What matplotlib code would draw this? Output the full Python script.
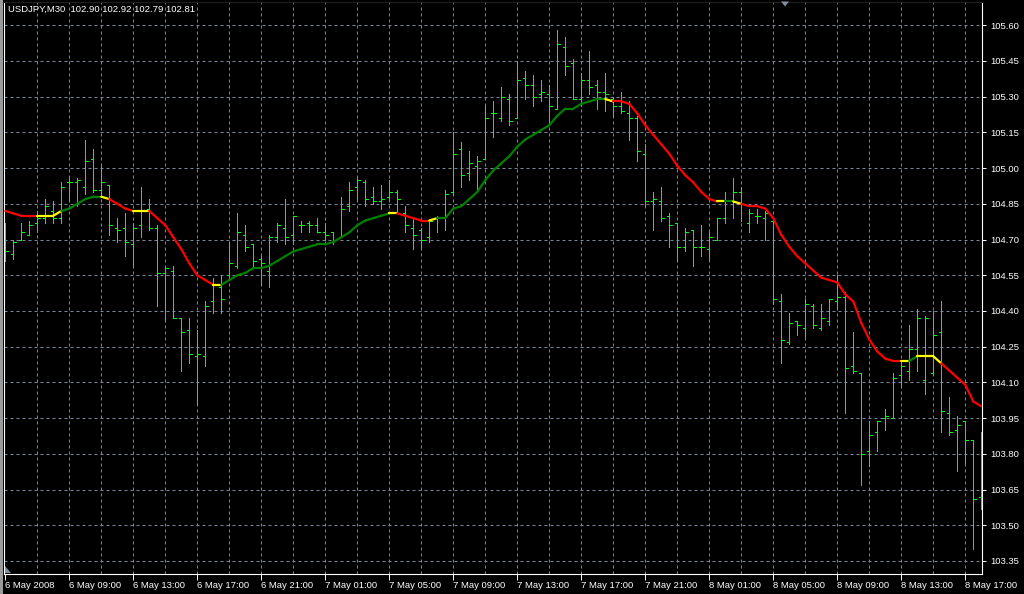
import numpy as np
import matplotlib
matplotlib.use("Agg")
import matplotlib.pyplot as plt
from matplotlib.collections import LineCollection
from matplotlib.patches import Polygon, Rectangle

# ---------------- data (USDJPY M30, 6 May 2008 05:00 onward) ----------------
opens = [104.70, 104.64, 104.70, 104.72, 104.77, 104.79, 104.82, 104.79, 104.94, 104.94,
         104.92, 105.04, 104.91, 104.93, 104.75, 104.75, 104.68, 104.76, 104.83, 104.75,
         104.56, 104.57, 104.37, 104.32, 104.21, 104.21, 104.44, 104.50, 104.55, 104.59,
         104.72, 104.68, 104.62, 104.57, 104.71, 104.75, 104.72, 104.76, 104.77, 104.76,
         104.73, 104.73, 104.71, 104.84, 104.92, 104.94, 104.88, 104.86, 104.88, 104.90,
         104.81, 104.75, 104.74, 104.71, 104.79, 104.79, 104.90, 105.08, 104.98, 105.01,
         105.04, 105.23, 105.21, 105.29, 105.21, 105.38, 105.35, 105.31, 105.31, 105.25,
         105.51, 105.44, 105.29, 105.37, 105.35, 105.32, 105.29, 105.26, 105.23, 105.21,
         105.06, 104.86, 104.86, 104.80, 104.77, 104.67, 104.74, 104.67, 104.66, 104.70,
         104.79, 104.86, 104.90, 104.77, 104.80, 104.79, 104.78, 104.44, 104.27, 104.36,
         104.33, 104.42, 104.33, 104.36, 104.44, 104.46, 104.17, 104.14, 103.81, 103.89,
         103.95, 103.95, 104.13, 104.15, 104.24, 104.11, 104.14, 104.31, 103.97, 103.90,
         103.94, 103.86, 103.62]
highs = [104.77, 104.70, 104.77, 104.78, 104.82, 104.87, 104.86, 104.94, 104.96, 104.96,
         105.12, 105.08, 105.01, 104.93, 104.79, 104.81, 104.77, 104.92, 104.87, 104.76,
         104.58, 104.59, 104.37, 104.37, 104.32, 104.44, 104.54, 104.55, 104.69, 104.81,
         104.76, 104.68, 104.63, 104.72, 104.77, 104.87, 104.80, 104.78, 104.78, 104.79,
         104.77, 104.73, 104.88, 104.94, 104.96, 104.95, 104.92, 104.93, 104.95, 104.91,
         104.84, 104.79, 104.75, 104.78, 104.80, 104.91, 105.15, 105.11, 105.07, 105.05,
         105.26, 105.28, 105.34, 105.31, 105.45, 105.41, 105.39, 105.37, 105.35, 105.58,
         105.55, 105.46, 105.40, 105.49, 105.37, 105.40, 105.30, 105.32, 105.28, 105.22,
         105.10, 104.90, 104.92, 104.81, 104.77, 104.75, 104.74, 104.76, 104.73, 104.79,
         104.90, 104.96, 104.92, 104.83, 104.83, 104.82, 104.78, 104.47, 104.39, 104.36,
         104.45, 104.43, 104.43, 104.45, 104.55, 104.48, 104.31, 104.14, 103.94, 103.94,
         103.99, 104.14, 104.18, 104.34, 104.41, 104.38, 104.40, 104.44, 104.04, 103.96,
         103.94, 103.86, 103.89]
lows = [104.61, 104.62, 104.70, 104.72, 104.73, 104.77, 104.77, 104.77, 104.86, 104.84,
        104.89, 104.90, 104.89, 104.72, 104.69, 104.63, 104.59, 104.71, 104.74, 104.42,
        104.36, 104.37, 104.15, 104.18, 104.01, 104.17, 104.39, 104.39, 104.54, 104.58,
        104.65, 104.58, 104.51, 104.50, 104.69, 104.68, 104.68, 104.73, 104.73, 104.73,
        104.70, 104.68, 104.71, 104.82, 104.86, 104.84, 104.85, 104.83, 104.86, 104.81,
        104.73, 104.66, 104.66, 104.69, 104.73, 104.74, 104.89, 104.92, 104.95, 104.90,
        105.04, 105.13, 105.20, 105.18, 105.21, 105.29, 105.26, 105.28, 105.19, 105.25,
        105.39, 105.29, 105.26, 105.31, 105.25, 105.24, 105.22, 105.23, 105.12, 105.03,
        104.84, 104.74, 104.78, 104.67, 104.61, 104.65, 104.59, 104.63, 104.62, 104.70,
        104.77, 104.79, 104.78, 104.73, 104.77, 104.70, 104.43, 104.18, 104.26, 104.30,
        104.29, 104.33, 104.32, 104.34, 104.41, 103.97, 104.14, 103.67, 103.75, 103.81,
        103.90, 103.95, 104.08, 104.11, 104.15, 104.05, 104.13, 103.89, 103.88, 103.73,
        103.76, 103.40, 103.57]
closes = [104.65, 104.69, 104.73, 104.76, 104.79, 104.84, 104.79, 104.92, 104.94, 104.95,
          105.03, 104.91, 104.94, 104.76, 104.74, 104.69, 104.75, 104.82, 104.75, 104.56,
          104.58, 104.37, 104.31, 104.22, 104.22, 104.42, 104.51, 104.45, 104.60, 104.73,
          104.67, 104.61, 104.60, 104.71, 104.76, 104.71, 104.80, 104.76, 104.76, 104.73,
          104.72, 104.70, 104.83, 104.91, 104.95, 104.87, 104.86, 104.87, 104.90, 104.87,
          104.76, 104.72, 104.70, 104.78, 104.79, 104.89, 105.06, 104.97, 105.02, 105.03,
          105.21, 105.23, 105.30, 105.20, 105.37, 105.35, 105.30, 105.32, 105.26, 105.52,
          105.43, 105.29, 105.37, 105.34, 105.32, 105.31, 105.26, 105.24, 105.21, 105.07,
          104.86, 104.87, 104.79, 104.76, 104.67, 104.73, 104.67, 104.67, 104.71, 104.79,
          104.86, 104.90, 104.85, 104.81, 104.80, 104.81, 104.45, 104.28, 104.35, 104.34,
          104.43, 104.34, 104.37, 104.45, 104.46, 104.16, 104.15, 103.80, 103.88, 103.94,
          103.96, 104.12, 104.17, 104.24, 104.37, 104.37, 104.30, 103.98, 103.89, 103.92,
          103.86, 103.61, 103.59]
ma_values = [104.82, 104.81, 104.80, 104.80, 104.80, 104.80, 104.80, 104.82, 104.83, 104.85,
             104.87, 104.88, 104.88, 104.87, 104.85, 104.83, 104.82, 104.82, 104.82, 104.79,
             104.76, 104.71, 104.66, 104.60, 104.55, 104.53, 104.51, 104.51, 104.53, 104.55,
             104.56, 104.58, 104.58, 104.59, 104.61, 104.63, 104.65, 104.66, 104.67, 104.68,
             104.68, 104.69, 104.71, 104.73, 104.76, 104.78, 104.79, 104.80, 104.81, 104.81,
             104.80, 104.79, 104.78, 104.78, 104.79, 104.79, 104.83, 104.84, 104.87, 104.90,
             104.95, 104.99, 105.02, 105.05, 105.09, 105.12, 105.14, 105.16, 105.18, 105.22,
             105.25, 105.25, 105.27, 105.28, 105.29, 105.29, 105.28, 105.28, 105.27, 105.23,
             105.18, 105.14, 105.10, 105.06, 105.01, 104.97, 104.94, 104.90, 104.87, 104.86,
             104.86, 104.86, 104.85, 104.84, 104.84, 104.83, 104.79, 104.72, 104.67, 104.63,
             104.60, 104.57, 104.54, 104.53, 104.52, 104.47, 104.44, 104.35, 104.28, 104.23,
             104.20, 104.19, 104.19, 104.19, 104.21, 104.21, 104.21, 104.18, 104.15, 104.12,
             104.09, 104.02, 104.00]
# trend state of the MA per bar: R = falling, Y = flat, G = rising
ma_state = ("RRRRR" "YYY" "GGGGG" "Y" "RRR" "YY" "RRRRRRRR" "Y"
            "GGGGGGGGGGGGGGGGGGGGG" "Y" "RRRR" "Y" "GGGGGGGGGGGGGGGGGGGGG" "Y"
            "RRRRRRRRRRRRR" "Y" "G" "Y" "RRRRRRRRRRRRRRRRRRRR" "Y" "G" "YYY" "RRRRR")
xtick_labels = ["6 May 2008", "6 May 09:00", "6 May 13:00", "6 May 17:00", "6 May 21:00",
                "7 May 01:00", "7 May 05:00", "7 May 09:00", "7 May 13:00", "7 May 17:00",
                "7 May 21:00", "8 May 01:00", "8 May 05:00", "8 May 09:00", "8 May 13:00",
                "8 May 17:00"]
title_text = "USDJPY,M30  102.90 102.92 102.79 102.81"

# ---------------- figure ----------------
W, H = 1024, 594
FONT = "Liberation Sans"
fig = plt.figure(figsize=(W / 100, H / 100), dpi=100, facecolor="black")
top_px, bot_px, left_px, right_px = 1.5, 573.5, 4.0, 982.0
ax = fig.add_axes([left_px / W, (H - bot_px) / H, (right_px - left_px) / W, (bot_px - top_px) / H])
ax.set_facecolor("black")

n = len(opens)
x = np.arange(n)
ax.set_xlim(-0.16, 122.09)
ax.set_ylim(103.2975, 105.6998)

yticks = np.round(np.arange(103.35, 105.6001, 0.15), 2)
grid_kw = dict(color="#778899", linewidth=0.72, linestyle=(0, (3, 3)), zorder=0)
for yv in yticks:
    ax.axhline(yv, **grid_kw)
for xv in x[4::4]:
    ax.axvline(xv, **grid_kw)

bar_color = "#00FF00"
bw = 0.72
ax.vlines(x, lows, highs, colors=bar_color, linewidth=bw, antialiased=False, zorder=2)
ax.hlines(opens, x - 0.32, x, colors=bar_color, linewidth=bw, antialiased=False, zorder=2)
ax.hlines(closes, x, x + 0.32, colors=bar_color, linewidth=bw, antialiased=False, zorder=2)

cmap = {"R": "#FF0000", "Y": "#FFFF00", "G": "#008000"}
segs = [[(x[i - 1], ma_values[i - 1]), (x[i], ma_values[i])] for i in range(1, n)]
cols = [cmap[ma_state[i]] for i in range(1, n)]
lc = LineCollection(segs, colors=cols, linewidths=1.6, capstyle="round", zorder=3)
ax.add_collection(lc)

# axes frame and ticks
for side in ["left", "right", "top", "bottom"]:
    ax.spines[side].set_color("white")
    ax.spines[side].set_linewidth(0.8)
ax.spines["top"].set_color("#202020")

ax.yaxis.tick_right()
ax.set_yticks(yticks)
ax.set_yticklabels([f"{v:.2f}" for v in yticks], fontfamily=FONT, fontsize=6.8, color="white")
ax.tick_params(axis="y", colors="white", length=3, width=0.7, pad=3, labelcolor="white")

ax.set_xticks(x[::8])
ax.set_xticklabels(xtick_labels, fontfamily=FONT, fontsize=6.8, color="white")
for lbl in ax.get_xticklabels():
    lbl.set_horizontalalignment("left")
ax.tick_params(axis="x", colors="white", length=4, width=0.7, pad=1.5, labelcolor="white")

# title
fig.text(8 / W, 1 - 9.5 / H, title_text, color="white", fontfamily=FONT, fontsize=6.8,
         ha="left", va="center")

# window edge and small chart markers
fig.patches.append(Rectangle((0, 0), 2.5 / W, 1, transform=fig.transFigure,
                             facecolor="#9a9a9a", edgecolor="none"))
fig.patches.append(Polygon([[781 / W, 1 - 1.5 / H], [789 / W, 1 - 1.5 / H], [785 / W, 1 - 6.5 / H]],
                           closed=True, transform=fig.transFigure, facecolor="#8090a0",
                           edgecolor="none"))
fig.patches.append(Polygon([[5 / W, 1 - 566 / H], [5 / W, 1 - 573 / H], [11 / W, 1 - 573 / H]],
                           closed=True, transform=fig.transFigure, facecolor="#8090a0",
                           edgecolor="none"))

fig.savefig("out.png", dpi=100, facecolor="black")
